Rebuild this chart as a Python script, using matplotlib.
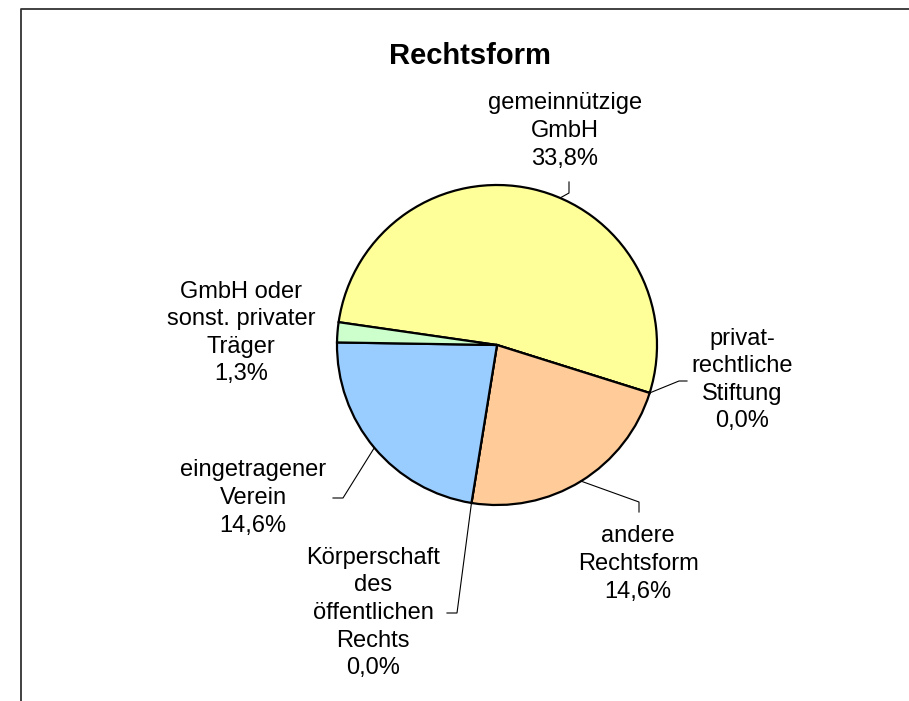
import matplotlib
matplotlib.use("Agg")
import matplotlib.pyplot as plt
import numpy as np

plt.rcParams["font.family"] = ["Liberation Sans", "DejaVu Sans"]

# data (clockwise order, as drawn)
categories = ["gemeinnützige\nGmbH", "privat-\nrechtliche\nStiftung", "andere\nRechtsform",
              "Körperschaft\ndes\nöffentlichen\nRechts", "eingetragener\nVerein",
              "GmbH oder\nsonst. privater\nTräger"]
shares = [33.8, 0.0, 14.6, 0.0, 14.6, 1.3]
colors = ["#FFFF99", "#FFCC99", "#FFCC99", "#99CCFF", "#99CCFF", "#CCFFCC"]

# layout (pixel units, y up)
W, H = 909, 701
CX, CY, R = 497, 701 - 345, 160
START = 171.8
label_xy = [(565, 701 - 131), (742, 701 - 380), (638, 701 - 564),
            (373, 701 - 613), (253, 701 - 498), (241, 701 - 333)]
# leader elbows after the wedge anchor (None = no leader)
leaders = [[(569, 701 - 193), (569, 701 - 182)],
           [(679, 701 - 381), (687, 701 - 381)],
           [(639, 701 - 502), (639, 701 - 512)],
           [(457, 701 - 613), (447, 701 - 613)],
           [(343, 701 - 498), (333, 701 - 498)],
           None]
anchor_frac = [0.555, 0.5, 0.5, 0.5, 0.5, 0.5]  # position along wedge arc

fig = plt.figure(figsize=(W / 100, H / 100), dpi=100)
ax = fig.add_axes([0, 0, 1, 1])

wedges, _ = ax.pie(shares, colors=colors, startangle=START, counterclock=False,
                   center=(CX, CY), radius=R, frame=True,
                   wedgeprops=dict(edgecolor="black", linewidth=1.6))
ax.set_xlim(0, W)
ax.set_ylim(0, H)
ax.set_axis_off()

for w, txt, val, pos, lead, fr in zip(wedges, categories, shares, label_xy, leaders, anchor_frac):
    lbl = txt + "\n" + f"{val:.1f}%".replace(".", ",")
    ax.text(pos[0], pos[1], lbl, ha="center", va="center", fontsize=17,
            linespacing=1.33, multialignment="center")
    if lead is None:
        continue
    # clockwise wedges run theta2 -> theta1
    ang = np.deg2rad(w.theta2 - fr * (w.theta2 - w.theta1))
    p0 = (CX + R * np.cos(ang), CY + R * np.sin(ang))
    pts = [p0] + lead
    ax.plot([p[0] for p in pts], [p[1] for p in pts], color="black", lw=0.8,
            solid_joinstyle="miter")

ax.text(470, H - 56, "Rechtsform", ha="center", va="center", fontsize=21,
        fontweight="bold")

# chart area frame (only left and top visible)
ax.plot([21, 21, W], [0, H - 9, H - 9], color="#333333", lw=1.3)

fig.savefig("out.png", dpi=100, facecolor="white")
